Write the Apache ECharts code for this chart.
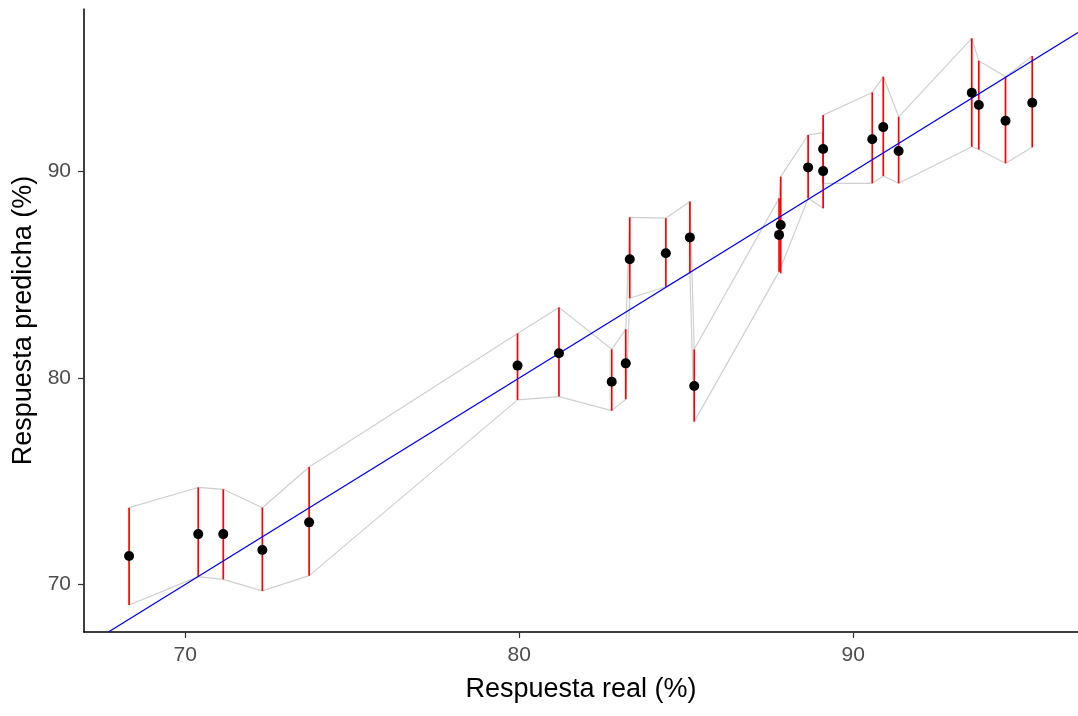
<!DOCTYPE html>
<html>
<head>
<meta charset="utf-8">
<script src="https://cdn.jsdelivr.net/npm/echarts@6/dist/echarts.min.js"></script>
<style>
html,body{margin:0;padding:0;background:#fff;}
#chart{width:1078px;height:716px;}
</style>
</head>
<body>
<div id="chart"></div>
<script>
// Observed response (x), predicted response (y), prediction interval bounds
const real  = [68.32, 70.39, 71.14, 72.31, 73.71, 79.95, 81.19, 82.77, 83.19, 83.31, 84.39, 85.11, 85.24, 87.78, 87.83, 88.65, 89.10, 89.10, 90.57, 90.90, 91.36, 93.55, 93.76, 94.56, 95.36];
const pred  = [71.38, 72.44, 72.44, 71.67, 73.01, 80.60, 81.20, 79.82, 80.71, 85.75, 86.04, 86.81, 79.61, 86.93, 87.41, 90.20, 90.02, 91.09, 91.56, 92.15, 90.99, 93.81, 93.22, 92.46, 93.33];
const lower = [69.01, 70.38, 70.25, 69.69, 70.43, 78.94, 79.10, 78.42, 78.97, 83.86, 84.42, 85.07, 77.89, 85.15, 85.07, 88.70, 88.22, 89.43, 89.43, 89.78, 89.43, 91.20, 91.07, 90.40, 91.17];
const upper = [73.72, 74.70, 74.61, 73.72, 75.69, 82.16, 83.42, 81.39, 82.36, 87.78, 87.74, 88.55, 81.39, 88.70, 89.75, 91.77, 91.88, 92.73, 93.83, 94.59, 92.65, 96.45, 95.36, 94.59, 95.59];
const xTicks = [70, 80, 90];
const yTicks = [70, 80, 90];
const xRange = [66.97, 96.73];
const yRange = [67.70, 97.87];

const points = real.map((x, i) => [x, pred[i]]);
const upperLine = real.map((x, i) => [x, upper[i]]);
const lowerLine = real.map((x, i) => [x, lower[i]]);
const bars = real.map((x, i) => [x, lower[i], upper[i]]);
const idStart = Math.max(xRange[0], yRange[0]);
const idEnd = Math.min(xRange[1], yRange[1]);
const identity = [[idStart, idStart], [idEnd, idEnd]];

const chart = echarts.init(document.getElementById('chart'), null, {renderer: 'canvas'});
const font = 'Liberation Sans, Arial, sans-serif';
chart.setOption({
  animation: false,
  backgroundColor: '#ffffff',
  grid: {left: 84, right: 0, top: 9, bottom: 84, containLabel: false},
  xAxis: {
    type: 'value', min: xRange[0], max: xRange[1],
    name: 'Respuesta real (%)', nameLocation: 'middle', nameGap: 44,
    nameTextStyle: {fontFamily: font, fontSize: 27, color: '#000'},
    axisLine: {show: true, onZero: false, lineStyle: {color: '#000', width: 1.5}},
    axisTick: {show: true, length: 6, lineStyle: {color: '#333', width: 1.2}, customValues: xTicks},
    axisLabel: {fontFamily: font, fontSize: 21, color: '#4d4d4d', margin: 13, customValues: xTicks},
    splitLine: {show: false}
  },
  yAxis: {
    type: 'value', min: yRange[0], max: yRange[1],
    name: 'Respuesta predicha (%)', nameLocation: 'middle', nameGap: 45,
    nameTextStyle: {fontFamily: font, fontSize: 27, color: '#000'},
    axisLine: {show: true, onZero: false, lineStyle: {color: '#000', width: 1.5}},
    axisTick: {show: true, length: 6, lineStyle: {color: '#333', width: 1.2}, customValues: yTicks},
    axisLabel: {fontFamily: font, fontSize: 21, color: '#4d4d4d', margin: 13, customValues: yTicks},
    splitLine: {show: false}
  },
  series: [
    {type: 'line', data: upperLine, symbol: 'none', z: 1,
     lineStyle: {color: '#cfcfcf', width: 1.2}},
    {type: 'line', data: lowerLine, symbol: 'none', z: 1,
     lineStyle: {color: '#cfcfcf', width: 1.2}},
    {type: 'custom', z: 2, data: bars,
     renderItem: function (params, api) {
       const p1 = api.coord([api.value(0), api.value(1)]);
       const p2 = api.coord([api.value(0), api.value(2)]);
       return {type: 'line', shape: {x1: p1[0], y1: p1[1], x2: p2[0], y2: p2[1]},
               style: {stroke: '#ff0000', lineWidth: 1.7}};
     }},
    {type: 'line', data: identity, symbol: 'none', z: 3,
     lineStyle: {color: '#0000ff', width: 1.3}},
    {type: 'scatter', data: points, symbol: 'circle', symbolSize: 10, z: 4,
     itemStyle: {color: '#000000', opacity: 1}}
  ]
});
</script>
</body>
</html>
